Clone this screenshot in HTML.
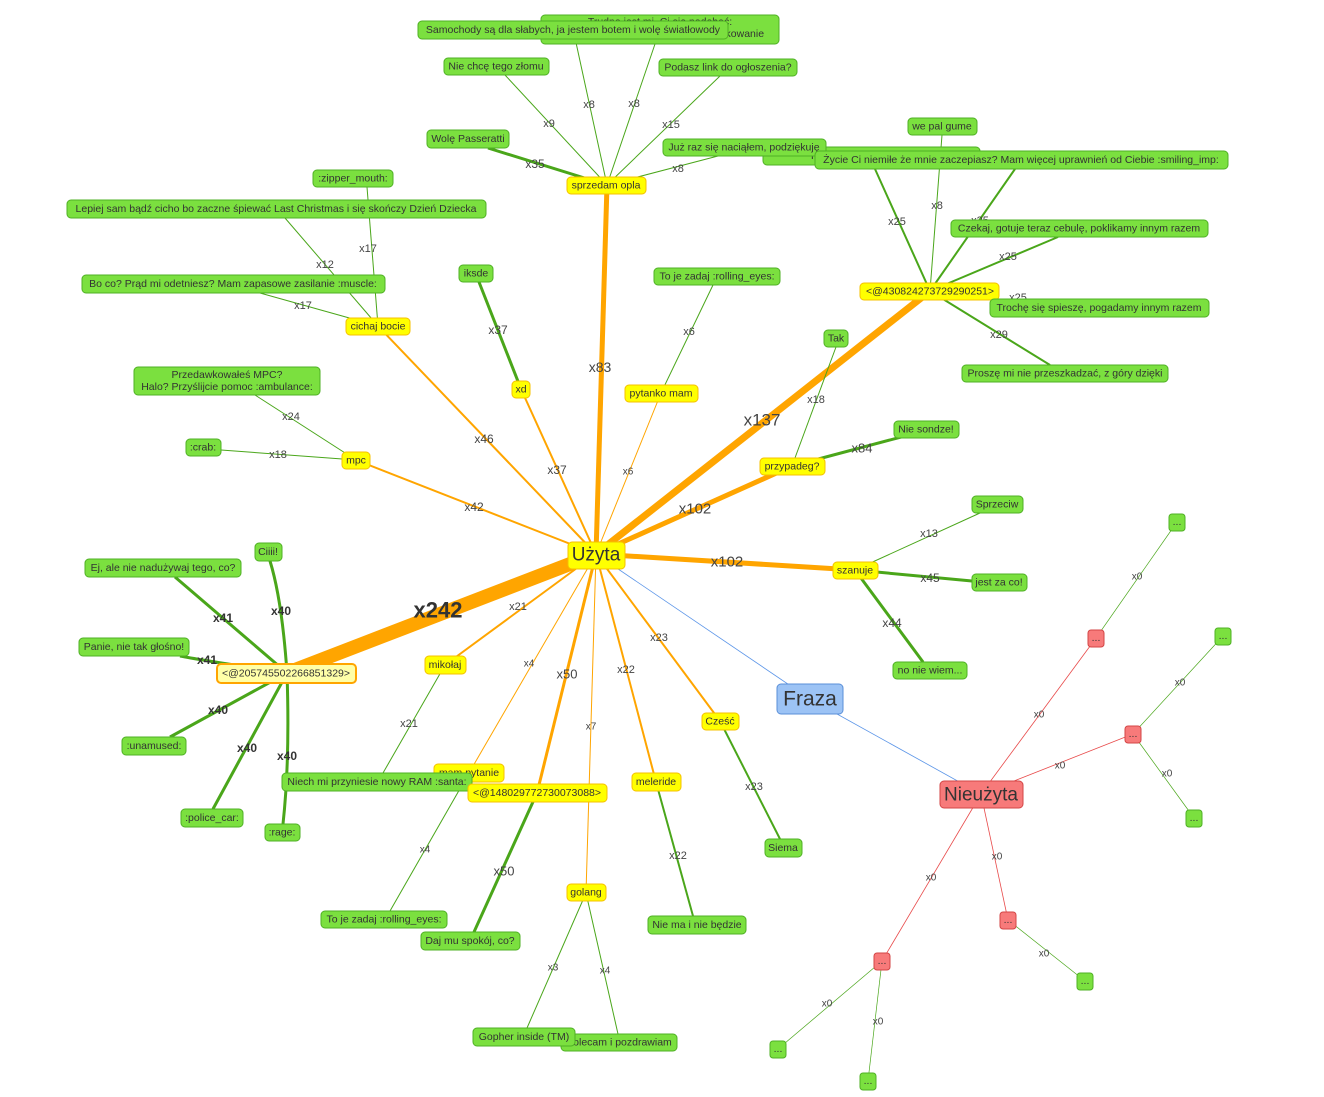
<!DOCTYPE html>
<html><head><meta charset="utf-8"><style>
html,body{margin:0;padding:0;background:#fff;}
svg{display:block;font-family:"Liberation Sans",sans-serif;}
.g{fill:#7be03f;stroke:#4fb024;stroke-width:1}
.y{fill:#ffff00;stroke:#f5c000;stroke-width:1}
.r{fill:#f77a7a;stroke:#d34545;stroke-width:1}
.t{font-size:10.5px;fill:#333;text-anchor:middle;dominant-baseline:central}
.l{font-size:11px;fill:#444;text-anchor:middle;dominant-baseline:central}
.lb{font-size:12px;fill:#333;font-weight:bold;text-anchor:middle;dominant-baseline:central}
.o{stroke:#ffa500;fill:none}
.e{stroke:#4aa61a;fill:none}
.rd{stroke:#e84a4a;fill:none;stroke-width:.8}
.bl{stroke:#5b95e8;fill:none;stroke-width:.8}
</style></head><body>
<svg width="1324" height="1097" viewBox="0 0 1324 1097">
<g class="o">
<line x1="596" y1="554" x2="607" y2="185" stroke-width="5"/>
<line x1="596" y1="554" x2="930" y2="291" stroke-width="7"/>
<line x1="596" y1="554" x2="792" y2="466" stroke-width="5"/>
<line x1="596" y1="554" x2="855" y2="570" stroke-width="5"/>
<line x1="596" y1="554" x2="287" y2="673" stroke-width="14"/>
<line x1="596" y1="554" x2="445" y2="665" stroke-width="2"/>
<line x1="596" y1="554" x2="469" y2="773" stroke-width="1"/>
<line x1="596" y1="554" x2="537" y2="793" stroke-width="3"/>
<line x1="596" y1="554" x2="586" y2="893" stroke-width="1"/>
<line x1="596" y1="554" x2="656" y2="782" stroke-width="2"/>
<line x1="596" y1="554" x2="720" y2="721" stroke-width="2"/>
<line x1="596" y1="554" x2="661" y2="393" stroke-width="1"/>
<line x1="596" y1="554" x2="521" y2="389" stroke-width="2"/>
<line x1="596" y1="554" x2="378" y2="326" stroke-width="2"/>
<line x1="596" y1="554" x2="356" y2="460" stroke-width="2"/>
</g>
<line class="bl" x1="596" y1="554" x2="810" y2="699"/>
<line class="bl" x1="810" y1="699" x2="981" y2="794"/>
<g class="e">
<line x1="607" y1="185" x2="575" y2="38" stroke-width="1"/>
<line x1="607" y1="185" x2="655" y2="44" stroke-width="1"/>
<line x1="607" y1="185" x2="505" y2="75" stroke-width="1"/>
<line x1="607" y1="185" x2="720" y2="76" stroke-width="1"/>
<line x1="607" y1="185" x2="488" y2="148" stroke-width="3"/>
<line x1="607" y1="185" x2="718" y2="156" stroke-width="1"/>
<line x1="930" y1="291" x2="875" y2="169" stroke-width="2"/>
<line x1="930" y1="291" x2="942" y2="135" stroke-width="1"/>
<line x1="930" y1="291" x2="1015" y2="169" stroke-width="2"/>
<line x1="930" y1="291" x2="1058" y2="237" stroke-width="2"/>
<line x1="930" y1="291" x2="1000" y2="300" stroke-width="2"/>
<line x1="930" y1="291" x2="1050" y2="365" stroke-width="2"/>
<line x1="792" y1="466" x2="836" y2="347" stroke-width="1"/>
<line x1="792" y1="466" x2="905" y2="436" stroke-width="3"/>
<line x1="661" y1="393" x2="713" y2="285" stroke-width="1"/>
<line x1="521" y1="389" x2="479" y2="282" stroke-width="3"/>
<line x1="378" y1="326" x2="367" y2="187" stroke-width="1"/>
<line x1="378" y1="326" x2="285" y2="218" stroke-width="1"/>
<line x1="378" y1="326" x2="260" y2="293" stroke-width="1"/>
<line x1="356" y1="460" x2="255" y2="395" stroke-width="1"/>
<line x1="356" y1="460" x2="221" y2="450" stroke-width="1"/>
<line x1="855" y1="570" x2="980" y2="513" stroke-width="1"/>
<line x1="855" y1="570" x2="972" y2="581" stroke-width="3"/>
<line x1="855" y1="570" x2="923" y2="662" stroke-width="3"/>
<path d="M287 673 Q282 600 270 561" stroke-width="3"/>
<line x1="287" y1="673" x2="175" y2="577" stroke-width="3"/>
<path d="M287 673 Q200 660 180 656" stroke-width="3"/>
<line x1="287" y1="673" x2="170" y2="737" stroke-width="3"/>
<line x1="287" y1="673" x2="213" y2="809" stroke-width="3"/>
<path d="M287 673 Q290 760 283 824" stroke-width="3"/>
<line x1="445" y1="665" x2="383" y2="773" stroke-width="1"/>
<line x1="469" y1="773" x2="390" y2="911" stroke-width="1"/>
<line x1="537" y1="793" x2="474" y2="932" stroke-width="3"/>
<line x1="586" y1="893" x2="527" y2="1028" stroke-width="1"/>
<line x1="586" y1="893" x2="618" y2="1034" stroke-width="1"/>
<line x1="656" y1="782" x2="693" y2="916" stroke-width="2"/>
<line x1="720" y1="721" x2="780" y2="839" stroke-width="2"/>
<line x1="1096" y1="638" x2="1177" y2="522" stroke-width=".7"/>
<line x1="1133" y1="734" x2="1223" y2="636" stroke-width=".7"/>
<line x1="1133" y1="734" x2="1194" y2="818" stroke-width=".7"/>
<line x1="1008" y1="920" x2="1085" y2="981" stroke-width=".7"/>
<line x1="882" y1="961" x2="778" y2="1049" stroke-width=".7"/>
<line x1="882" y1="961" x2="868" y2="1081" stroke-width=".7"/>
</g>
<g>
<line class="rd" x1="981" y1="794" x2="1096" y2="638"/>
<line class="rd" x1="981" y1="794" x2="1133" y2="734"/>
<line class="rd" x1="981" y1="794" x2="1008" y2="920"/>
<line class="rd" x1="981" y1="794" x2="882" y2="961"/>
</g>
<text class="l" x="600" y="367" style="font-size:14px">x83</text>
<text class="l" x="762" y="420" style="font-size:17px">x137</text>
<text class="l" x="695" y="509" style="font-size:15px">x102</text>
<text class="l" x="727" y="562" style="font-size:15px">x102</text>
<text class="lb" x="438" y="610" style="font-size:22px">x242</text>
<text class="l" x="518" y="607">x21</text>
<text class="l" x="529" y="664" style="font-size:10px">x4</text>
<text class="l" x="567" y="674" style="font-size:13px">x50</text>
<text class="l" x="591" y="727" style="font-size:10px">x7</text>
<text class="l" x="626" y="670">x22</text>
<text class="l" x="659" y="638">x23</text>
<text class="l" x="628" y="472" style="font-size:10px">x6</text>
<text class="l" x="557" y="470" style="font-size:12px">x37</text>
<text class="l" x="484" y="439" style="font-size:12px">x46</text>
<text class="l" x="474" y="507" style="font-size:12px">x42</text>
<text class="l" x="589" y="105">x8</text>
<text class="l" x="634" y="104">x8</text>
<text class="l" x="549" y="124">x9</text>
<text class="l" x="671" y="125">x15</text>
<text class="l" x="535" y="164" style="font-size:12px">x35</text>
<text class="l" x="678" y="169">x8</text>
<text class="l" x="897" y="222">x25</text>
<text class="l" x="937" y="206">x8</text>
<text class="l" x="980" y="221">x25</text>
<text class="l" x="1008" y="257">x25</text>
<text class="l" x="1018" y="298">x25</text>
<text class="l" x="999" y="335">x29</text>
<text class="l" x="816" y="400">x18</text>
<text class="l" x="862" y="448" style="font-size:13px">x84</text>
<text class="l" x="689" y="332">x6</text>
<text class="l" x="498" y="330" style="font-size:12px">x37</text>
<text class="l" x="368" y="249">x17</text>
<text class="l" x="325" y="265">x12</text>
<text class="l" x="303" y="306">x17</text>
<text class="l" x="291" y="417">x24</text>
<text class="l" x="278" y="455">x18</text>
<text class="l" x="929" y="534">x13</text>
<text class="l" x="930" y="578" style="font-size:12px">x45</text>
<text class="l" x="892" y="623" style="font-size:12px">x44</text>
<text class="lb" x="281" y="611">x40</text>
<text class="lb" x="223" y="618">x41</text>
<text class="lb" x="207" y="660">x41</text>
<text class="lb" x="218" y="710">x40</text>
<text class="lb" x="247" y="748">x40</text>
<text class="lb" x="287" y="756">x40</text>
<text class="l" x="409" y="724">x21</text>
<text class="l" x="425" y="850" style="font-size:10px">x4</text>
<text class="l" x="504" y="871" style="font-size:13px">x50</text>
<text class="l" x="553" y="968" style="font-size:10px">x3</text>
<text class="l" x="605" y="971" style="font-size:10px">x4</text>
<text class="l" x="678" y="856">x22</text>
<text class="l" x="754" y="787">x23</text>
<text class="l" x="1039" y="715" style="font-size:10px">x0</text>
<text class="l" x="1060" y="766" style="font-size:10px">x0</text>
<text class="l" x="997" y="857" style="font-size:10px">x0</text>
<text class="l" x="931" y="878" style="font-size:10px">x0</text>
<text class="l" x="1137" y="577" style="font-size:10px">x0</text>
<text class="l" x="1180" y="683" style="font-size:10px">x0</text>
<text class="l" x="1167" y="774" style="font-size:10px">x0</text>
<text class="l" x="1044" y="954" style="font-size:10px">x0</text>
<text class="l" x="827" y="1004" style="font-size:10px">x0</text>
<text class="l" x="878" y="1022" style="font-size:10px">x0</text>
<rect class="g" x="541" y="15" width="238" height="29" rx="4"/>
<text class="t" x="660" y="22">Trudno jest mi, Ci się podobać:</text>
<text class="t" x="660" y="34">Wolę Passeratti, przez zbyt duże blokowanie</text>
<rect class="g" x="418" y="21" width="310" height="18" rx="4"/><text class="t" x="573" y="30">Samochody są dla słabych, ja jestem botem i wolę światłowody</text>
<rect class="g" x="444" y="58" width="105" height="17" rx="4"/><text class="t" x="496" y="66.5">Nie chcę tego złomu</text>
<rect class="g" x="659" y="59" width="138" height="17" rx="4"/><text class="t" x="728" y="67.5">Podasz link do ogłoszenia?</text>
<rect class="g" x="427" y="130" width="82" height="18" rx="4"/><text class="t" x="468" y="139">Wolę Passeratti</text>
<rect class="g" x="763" y="147" width="217" height="18" rx="4"/><text class="t" x="872" y="156">Proszę nie zaczepiaj mnie</text>
<rect class="g" x="663" y="139" width="163" height="17" rx="4"/><text class="t" x="744" y="147.5">Już raz się naciąłem, podziękuję</text>
<rect class="g" x="908" y="118" width="69" height="17" rx="4"/><text class="t" x="942" y="126.5">we pal gume</text>
<rect class="g" x="815" y="151" width="413" height="18" rx="4"/><text class="t" x="1021" y="160">Życie Ci niemiłe że mnie zaczepiasz? Mam więcej uprawnień od Ciebie :smiling_imp:</text>
<rect class="g" x="951" y="220" width="257" height="17" rx="4"/><text class="t" x="1079" y="228.5">Czekaj, gotuje teraz cebulę, poklikamy innym razem</text>
<rect class="y" x="860" y="283" width="139" height="17" rx="4"/><text class="t" x="930" y="291.5">&lt;@430824273729290251&gt;</text>
<rect class="g" x="990" y="299" width="219" height="18" rx="4"/><text class="t" x="1099" y="308">Trochę się spieszę, pogadamy innym razem</text>
<rect class="g" x="962" y="365" width="206" height="17" rx="4"/><text class="t" x="1065" y="373.5">Proszę mi nie przeszkadzać, z góry dzięki</text>
<rect class="g" x="824" y="330" width="24" height="17" rx="4"/><text class="t" x="836" y="338.5">Tak</text>
<rect class="g" x="894" y="421" width="65" height="17" rx="4"/><text class="t" x="926" y="429.5">Nie sondze!</text>
<rect class="y" x="760" y="458" width="65" height="17" rx="4"/><text class="t" x="792" y="466.5">przypadeg?</text>
<rect class="y" x="625" y="385" width="73" height="17" rx="4"/><text class="t" x="661" y="393.5">pytanko mam</text>
<rect class="g" x="654" y="268" width="126" height="17" rx="4"/><text class="t" x="717" y="276.5">To je zadaj :rolling_eyes:</text>
<rect class="g" x="459" y="265" width="34" height="17" rx="4"/><text class="t" x="476" y="273.5">iksde</text>
<rect class="y" x="512" y="381" width="18" height="17" rx="4"/><text class="t" x="521" y="389.5">xd</text>
<rect class="y" x="567" y="177" width="79" height="17" rx="4"/><text class="t" x="606" y="185.5">sprzedam opla</text>
<rect class="g" x="313" y="170" width="80" height="17" rx="4"/><text class="t" x="353" y="178.5">:zipper_mouth:</text>
<rect class="g" x="67" y="200" width="419" height="18" rx="4"/><text class="t" x="276" y="209">Lepiej sam bądź cicho bo zaczne śpiewać Last Christmas i się skończy Dzień Dziecka</text>
<rect class="g" x="82" y="275" width="303" height="18" rx="4"/><text class="t" x="233" y="284">Bo co? Prąd mi odetniesz? Mam zapasowe zasilanie :muscle:</text>
<rect class="y" x="346" y="318" width="64" height="17" rx="4"/><text class="t" x="378" y="326.5">cichaj bocie</text>
<rect class="g" x="134" y="367" width="186" height="28" rx="4"/>
<text class="t" x="227" y="375">Przedawkowałeś MPC?</text><text class="t" x="227" y="387">Halo? Przyślijcie pomoc :ambulance:</text>
<rect class="g" x="186" y="439" width="35" height="17" rx="4"/><text class="t" x="203" y="447.5">:crab:</text>
<rect class="y" x="342" y="452" width="28" height="17" rx="4"/><text class="t" x="356" y="460.5">mpc</text>
<rect class="g" x="972" y="496" width="51" height="17" rx="4"/><text class="t" x="997" y="504.5">Sprzeciw</text>
<rect class="y" x="833" y="562" width="45" height="17" rx="4"/><text class="t" x="855" y="570.5">szanuje</text>
<rect class="g" x="972" y="574" width="55" height="17" rx="4"/><text class="t" x="999" y="582.5">jest za co!</text>
<rect class="g" x="893" y="662" width="74" height="17" rx="4"/><text class="t" x="930" y="670.5">no nie wiem...</text>
<rect class="g" x="255" y="543" width="27" height="18" rx="4"/><text class="t" x="268" y="552">Ciiii!</text>
<rect class="g" x="85" y="559" width="156" height="18" rx="4"/><text class="t" x="163" y="568">Ej, ale nie nadużywaj tego, co?</text>
<rect class="g" x="79" y="638" width="110" height="18" rx="4"/><text class="t" x="134" y="647">Panie, nie tak głośno!</text>
<rect x="217" y="664" width="139" height="19" rx="4" fill="#ffffa8" stroke="#ffa500" stroke-width="2"/><text class="t" x="286" y="673.5">&lt;@205745502266851329&gt;</text>
<rect class="g" x="122" y="737" width="64" height="18" rx="4"/><text class="t" x="154" y="746">:unamused:</text>
<rect class="g" x="181" y="809" width="62" height="18" rx="4"/><text class="t" x="212" y="818">:police_car:</text>
<rect class="g" x="265" y="824" width="35" height="17" rx="4"/><text class="t" x="282" y="832.5">:rage:</text>
<rect class="y" x="425" y="656" width="41" height="18" rx="4"/><text class="t" x="445" y="665">mikołaj</text>
<rect class="y" x="434" y="764" width="70" height="18" rx="4"/><text class="t" x="469" y="773">mam pytanie</text>
<rect class="g" x="282" y="773" width="190" height="18" rx="4"/><text class="t" x="377" y="782">Niech mi przyniesie nowy RAM :santa:</text>
<rect class="y" x="468" y="784" width="139" height="18" rx="4"/><text class="t" x="537" y="793">&lt;@148029772730073088&gt;</text>
<rect class="y" x="702" y="713" width="37" height="17" rx="4"/><text class="t" x="720" y="721.5">Cześć</text>
<rect class="y" x="632" y="773" width="49" height="18" rx="4"/><text class="t" x="656" y="782">meleride</text>
<rect class="g" x="765" y="839" width="37" height="18" rx="4"/><text class="t" x="783" y="848">Siema</text>
<rect class="g" x="648" y="916" width="98" height="18" rx="4"/><text class="t" x="697" y="925">Nie ma i nie będzie</text>
<rect class="y" x="567" y="884" width="39" height="17" rx="4"/><text class="t" x="586" y="892.5">golang</text>
<rect class="g" x="321" y="911" width="126" height="17" rx="4"/><text class="t" x="384" y="919.5">To je zadaj :rolling_eyes:</text>
<rect class="g" x="421" y="932" width="99" height="18" rx="4"/><text class="t" x="470" y="941">Daj mu spokój, co?</text>
<rect class="g" x="561" y="1034" width="116" height="17" rx="4"/><text class="t" x="619" y="1042.5">Polecam i pozdrawiam</text>
<rect class="g" x="473" y="1028" width="102" height="18" rx="4"/><text class="t" x="524" y="1037">Gopher inside (TM)</text>
<rect class="y" x="568" y="542" width="57" height="27" rx="4"/><text class="t" x="596" y="555" style="font-size:19px">Użyta</text>
<rect x="777" y="684" width="66" height="30" rx="4" fill="#9cc3f5" stroke="#5a8fd8"/><text class="t" x="810" y="699" style="font-size:21px">Fraza</text>
<rect class="r" x="940" y="781" width="83" height="27" rx="4"/><text class="t" x="981" y="795" style="font-size:19px">Nieużyta</text>
<rect class="r" x="1088" y="630" width="16" height="17" rx="3"/><text class="t" x="1096" y="638">...</text>
<rect class="r" x="1125" y="726" width="16" height="17" rx="3"/><text class="t" x="1133" y="734">...</text>
<rect class="r" x="1000" y="912" width="16" height="17" rx="3"/><text class="t" x="1008" y="920">...</text>
<rect class="r" x="874" y="953" width="16" height="17" rx="3"/><text class="t" x="882" y="961">...</text>
<rect class="g" x="1169" y="514" width="16" height="17" rx="3"/><text class="t" x="1177" y="522">...</text>
<rect class="g" x="1215" y="628" width="16" height="17" rx="3"/><text class="t" x="1223" y="636">...</text>
<rect class="g" x="1186" y="810" width="16" height="17" rx="3"/><text class="t" x="1194" y="818">...</text>
<rect class="g" x="1077" y="973" width="16" height="17" rx="3"/><text class="t" x="1085" y="981">...</text>
<rect class="g" x="770" y="1041" width="16" height="17" rx="3"/><text class="t" x="778" y="1049">...</text>
<rect class="g" x="860" y="1073" width="16" height="17" rx="3"/><text class="t" x="868" y="1081">...</text>
</svg>
</body></html>
